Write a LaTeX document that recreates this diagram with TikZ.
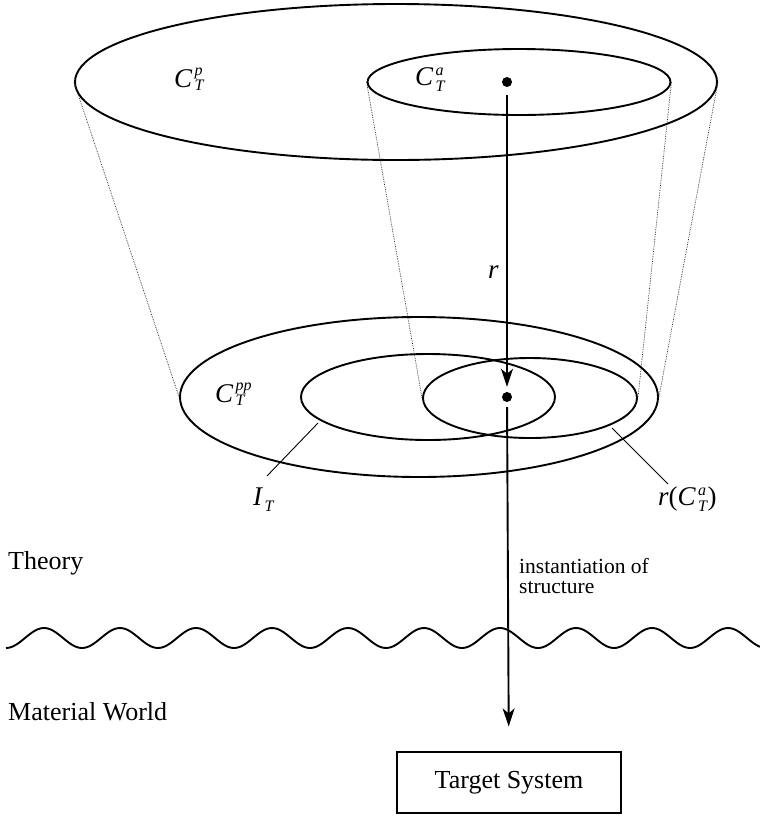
\documentclass[tikz,border=0pt]{standalone}
\usepackage{fontspec}
\setmainfont{Liberation Serif}
\usetikzlibrary{shapes.geometric,arrows.meta}
\newcommand{\scr}[1]{\hbox{\kern2.5pt\fontsize{16}{16}\selectfont\itshape #1}}
\newcommand{\lbl}[3]{{\itshape #1}$^{\scr{#2}}_{\scr{#3}}$}
\tikzset{
  ell/.style={ellipse, draw, line width=1.9pt, inner sep=0pt},
  proj/.style={densely dotted, line width=0.7pt, black!85},
  leader/.style={line width=0.9pt},
  arr/.style={line width=1.9pt, -{Stealth[length=18pt, width=12pt, inset=5pt]}},
  dot/.style={circle, fill, inner sep=0pt, minimum size=10pt},
  big/.style={font=\fontsize{26}{30}\selectfont},
  math/.style={font=\fontsize{27}{30}\selectfont, inner sep=0pt, anchor=base west},
}
\begin{document}
\begin{tikzpicture}[x=1pt, y=-1pt]
\useasboundingbox (0,0) rectangle (760,823);
% ellipses
\node[ell, minimum width=642pt, minimum height=156pt] (CP) at (396,82) {};
\node[ell, minimum width=303pt, minimum height=66pt] (CA) at (519,82) {};
\node[ell, minimum width=478pt, minimum height=160pt] (CPP) at (419,397) {};
\node[ell, minimum width=254pt, minimum height=86pt] (IT) at (428,397) {};
\node[ell, minimum width=214pt, minimum height=80pt] (RC) at (530,398) {};
% projection lines
\draw[proj] (CP.west) -- (CPP.west);
\draw[proj] (CP.east) -- (CPP.east);
\draw[proj] (CA.west) -- (RC.west);
\draw[proj] (CA.east) -- (RC.east);
% labels
\node[math] (lp) at (174,87) {\lbl{C}{p}{T}};
\node[math] (la) at (415,85) {\lbl{C}{a}{T}};
\node[math] (lpp) at (215,402) {\lbl{C}{pp}{T}};
\node[math] (lit) at (253,505) {\lbl{I}{}{T}};
\node[math] (lrc) at (658,505) {{\itshape r}(\lbl{C}{a}{T})};
\node[math] (lr) at (488,278) {\itshape r};
% leaders
\coordinate (itA) at (318,423);
\coordinate (itB) at (267,476);
\coordinate (rcA) at (612,428);
\coordinate (rcB) at (668,484);
\draw[leader] (itA) -- (itB);
\draw[leader] (rcA) -- (rcB);
% dots and arrows
\node[dot] (dtop) at (507,82) {};
\node[dot] (dbot) at (507,397) {};
\node[draw, line width=1.2pt, minimum width=224pt, minimum height=61pt, big] (ts) at (509,782.5) {Target System};
\draw[arr, shorten <=8pt, shorten >=5pt] (dtop) -- (dbot);
\draw[arr, shorten <=5pt, shorten >=25pt] (dbot) -- (ts);
% wave
\draw[line width=1.9pt] plot[domain=6:760, samples=300, smooth] (\x, {638 + 10*cos(4.7368*(\x-6))});
% texts
\node[big, anchor=base west, inner sep=0pt] (th) at (8,569) {Theory};
\node[big, anchor=base west, inner sep=0pt] (mw) at (8,720) {Material World};
\node[font=\fontsize{21.5}{20}\selectfont, align=left, anchor=north west, inner sep=0pt] (inst) at (519,558) {instantiation of\\structure};
\end{tikzpicture}
\end{document}
